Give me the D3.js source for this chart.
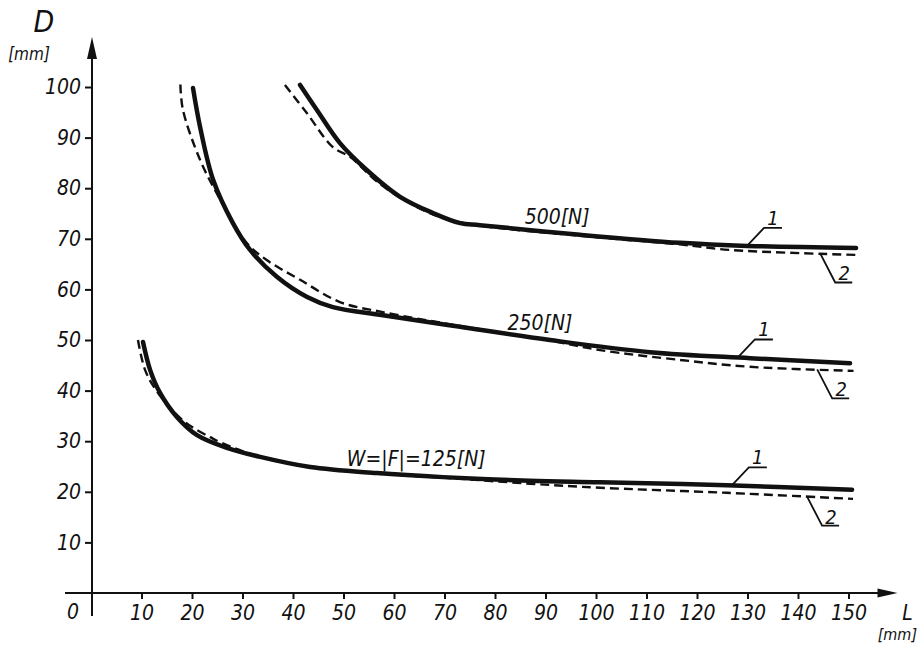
<!DOCTYPE html>
<html>
<head>
<meta charset="utf-8">
<script src="https://cdn.jsdelivr.net/npm/d3@7"></script>
<style>
    body { margin: 0; background: #fff; }
    svg text {
        font-family: "Liberation Sans Narrow", "DejaVu Sans Condensed", sans-serif;
        font-style: italic;
        fill: #111;
    }
</style>
</head>
<body>
<div id="chart"></div>
<script>

// tick values
const xTicks = [10, 20, 30, 40, 50, 60, 70, 80, 90, 100, 110, 120, 130, 140, 150];
const yTicks = [10, 20, 30, 40, 50, 60, 70, 80, 90, 100];

// D [mm] against L [mm], curve 1 (solid) and curve 2 (dashed) for each load
const curve125_1 = [[10.3, 49.6], [11.7, 44.1], [13.7, 39.5], [17, 34.8], [21, 31.2], [26.9, 28.7], [33.5, 26.9],
    [43.4, 24.9], [56.6, 23.7], [69.7, 22.9], [86.9, 22.2], [100.8, 21.9], [125.9, 21.3], [150.7, 20.4]];
const curve125_2 = [[9.3, 50], [10.7, 44.1], [13, 39.9], [17, 35.2], [20, 32.8], [23.6, 30.8], [26, 29.6], [33.5, 26.9],
    [43.4, 24.9], [56.6, 23.6], [69.7, 22.8], [86.9, 21.6], [100.8, 20.8], [125.9, 19.8], [150.9, 18.6]];

const curve250_1 = [[20.2, 99.8], [21.6, 92.1], [24.2, 81.6], [28.1, 73.1], [31.5, 67.8], [36.8, 62.5], [42.8, 58.5],
    [47.9, 56.5], [57.8, 54.9], [73.1, 52.6], [90.9, 50], [110.7, 47.6], [130.5, 46.4], [150.3, 45.4]];
const curve250_2 = [[17.7, 100.5], [18.2, 95.5], [21.6, 85.6], [24.9, 79], [30.8, 69.2], [34.8, 65.8], [41.4, 61.9],
    [49.3, 57.5], [57.8, 55.5], [73, 52.8], [90.9, 49.9], [100.8, 48], [117.2, 46], [130.5, 44.7], [151, 43.9]];

const curve500_1 = [[41.4, 100.4], [44.7, 95.5], [49.3, 88.9], [54.6, 83.6], [61.2, 78.3], [67.7, 75.1], [73.1, 73.1],
    [77, 72.7], [96.8, 70.8], [116.6, 69.2], [130, 68.6], [151.5, 68.2]];
const curve500_2 = [[38.4, 100.4], [42.7, 94.9], [47.9, 88.1], [51.3, 86.2], [57, 81], [64.5, 76.3], [70, 74],
    [77, 72.6], [96.8, 70.6], [116.6, 68.9], [126.5, 67.8], [152, 66.8]];

const forceLabels = ["W=|F|=125[N]", "250[N]", "500[N]"];
const labelAtL = [64.4, 88.9, 92.3];     // L where the load label sits
const mark1AtL = [126.9, 128.1, 129.9];  // where the "1" leader leaves curve 1
const mark2AtL = [141.8, 143.8, 144.4];  // where the "2" leader leaves curve 2


class DiameterChart {

    constructor(_config) {
        this.config = {
            parentElement: _config.parentElement,
            containerWidth: 920,
            containerHeight: 646,
            margin: {top: 87, right: 71.5, bottom: 53, left: 91},
        }
        this.initVis();
    }

    initVis() {
        let vis = this;

        vis.config.width = vis.config.containerWidth - vis.config.margin.left - vis.config.margin.right;
        vis.config.height = vis.config.containerHeight - vis.config.margin.top - vis.config.margin.bottom;

        vis.xScale = d3.scaleLinear().domain([0, 150]).range([0, vis.config.width]);
        vis.yScale = d3.scaleLinear().domain([0, 100]).range([vis.config.height, 0]);

        vis.svg = d3.select(vis.config.parentElement).append("svg")
            .attr("width", vis.config.containerWidth)
            .attr("height", vis.config.containerHeight);

        vis.chart = vis.svg.append("g")
            .attr("transform", `translate(${vis.config.margin.left},${vis.config.margin.top})`);

        vis.line = d3.line()
            .x(d => vis.xScale(d[0]))
            .y(d => vis.yScale(d[1]))
            .curve(d3.curveCatmullRom.alpha(0.5));
    }

    // linear read-off of D at a given L along one curve
    valueAt(data, L) {
        const i = d3.bisector(d => d[0]).left(data, L);
        if (i <= 0) return data[0][1];
        if (i >= data.length) return data[data.length - 1][1];
        const a = data[i - 1], b = data[i];
        return a[1] + (b[1] - a[1]) * (L - a[0]) / (b[0] - a[0]);
    }

    renderVis() {
        let vis = this;
        const h = vis.config.height;

        // axes
        const xAxis = d3.axisBottom(vis.xScale).tickValues(xTicks).tickSize(6).tickSizeOuter(0);
        const yAxis = d3.axisLeft(vis.yScale).tickValues(yTicks).tickSize(6).tickSizeOuter(0);

        const xAxisG = vis.chart.append("g")
            .attr("transform", `translate(0,${h})`)
            .call(xAxis);
        xAxisG.select(".domain").remove();
        xAxisG.selectAll(".tick line").attr("stroke", "#111").attr("stroke-width", 2);
        xAxisG.selectAll(".tick text")
            .attr("y", 12).attr("dy", "0.71em")
            .attr("font-size", 21).attr("font-family", null).attr("fill", null);

        const yAxisG = vis.chart.append("g").call(yAxis);
        yAxisG.select(".domain").remove();
        yAxisG.selectAll(".tick line").attr("stroke", "#111").attr("stroke-width", 2);
        yAxisG.selectAll(".tick text")
            .attr("x", -10)
            .attr("font-size", 21).attr("font-family", null).attr("fill", null);

        // axis lines with arrow heads
        vis.chart.append("line")
            .attr("x1", 1).attr("x2", 1).attr("y1", h + 23).attr("y2", -35)
            .attr("stroke", "#111").attr("stroke-width", 2);
        vis.chart.append("path")
            .attr("d", "M1,-50 L-4,-28 L6,-28 Z").attr("fill", "#111");

        vis.chart.append("line")
            .attr("x1", -26).attr("x2", vis.config.width + 35).attr("y1", h).attr("y2", h)
            .attr("stroke", "#111").attr("stroke-width", 2);
        vis.chart.append("path")
            .attr("d", `M${vis.config.width + 49},${h} L${vis.config.width + 29},${h - 4.5} L${vis.config.width + 29},${h + 4.5} Z`)
            .attr("fill", "#111");

        // axis titles
        vis.chart.append("text").attr("x", -18).attr("y", h + 26).attr("text-anchor", "middle")
            .attr("font-size", 21).text("0");
        vis.chart.append("text").attr("x", -47).attr("y", -55).attr("text-anchor", "middle")
            .attr("font-size", 30).text("D");
        vis.chart.append("text").attr("x", -62).attr("y", -27).attr("text-anchor", "middle")
            .attr("font-size", 17).text("[mm]");
        vis.chart.append("text").attr("x", vis.config.width + 59).attr("y", h + 27).attr("text-anchor", "middle")
            .attr("font-size", 21).text("L");
        vis.chart.append("text").attr("x", vis.config.containerWidth - vis.config.margin.left - 3).attr("y", h + 47)
            .attr("text-anchor", "end")
            .attr("font-size", 16).text("[mm]");

        // curves
        const groups = [
            {c1: curve125_1, c2: curve125_2},
            {c1: curve250_1, c2: curve250_2},
            {c1: curve500_1, c2: curve500_2},
        ];

        groups.forEach((g, i) => {
            vis.chart.append("path")
                .datum(g.c2)
                .attr("fill", "none")
                .attr("stroke", "#111")
                .attr("stroke-width", 2.4)
                .attr("stroke-dasharray", "9,5")
                .attr("d", vis.line);

            vis.chart.append("path")
                .datum(g.c1)
                .attr("fill", "none")
                .attr("stroke", "#111")
                .attr("stroke-width", 4.5)
                .attr("stroke-linecap", "round")
                .attr("d", vis.line);

            // load label above curve 1
            const lx = vis.xScale(labelAtL[i]);
            const ly = vis.yScale(vis.valueAt(g.c1, labelAtL[i])) - 9;
            vis.chart.append("text")
                .attr("x", lx).attr("y", ly)
                .attr("text-anchor", "middle")
                .attr("font-size", 21)
                .text(forceLabels[i]);

            // "1" leader
            const p1x = vis.xScale(mark1AtL[i]);
            const p1y = vis.yScale(vis.valueAt(g.c1, mark1AtL[i]));
            vis.chart.append("path")
                .attr("d", `M${p1x},${p1y} L${p1x + 17},${p1y - 18} L${p1x + 35},${p1y - 18}`)
                .attr("fill", "none").attr("stroke", "#111").attr("stroke-width", 1.8);
            vis.chart.append("text")
                .attr("x", p1x + 26).attr("y", p1y - 21)
                .attr("text-anchor", "middle")
                .attr("font-size", 20)
                .text("1");

            // "2" leader
            const p2x = vis.xScale(mark2AtL[i]);
            const p2y = vis.yScale(vis.valueAt(g.c2, mark2AtL[i]));
            vis.chart.append("path")
                .attr("d", `M${p2x},${p2y} L${p2x + 15},${p2y + 29} L${p2x + 32},${p2y + 29}`)
                .attr("fill", "none").attr("stroke", "#111").attr("stroke-width", 1.8);
            vis.chart.append("text")
                .attr("x", p2x + 24).attr("y", p2y + 27)
                .attr("text-anchor", "middle")
                .attr("font-size", 20)
                .text("2");
        });
    }
}

const chart = new DiameterChart({parentElement: "#chart"});
chart.renderVis();

</script>
</body>
</html>
